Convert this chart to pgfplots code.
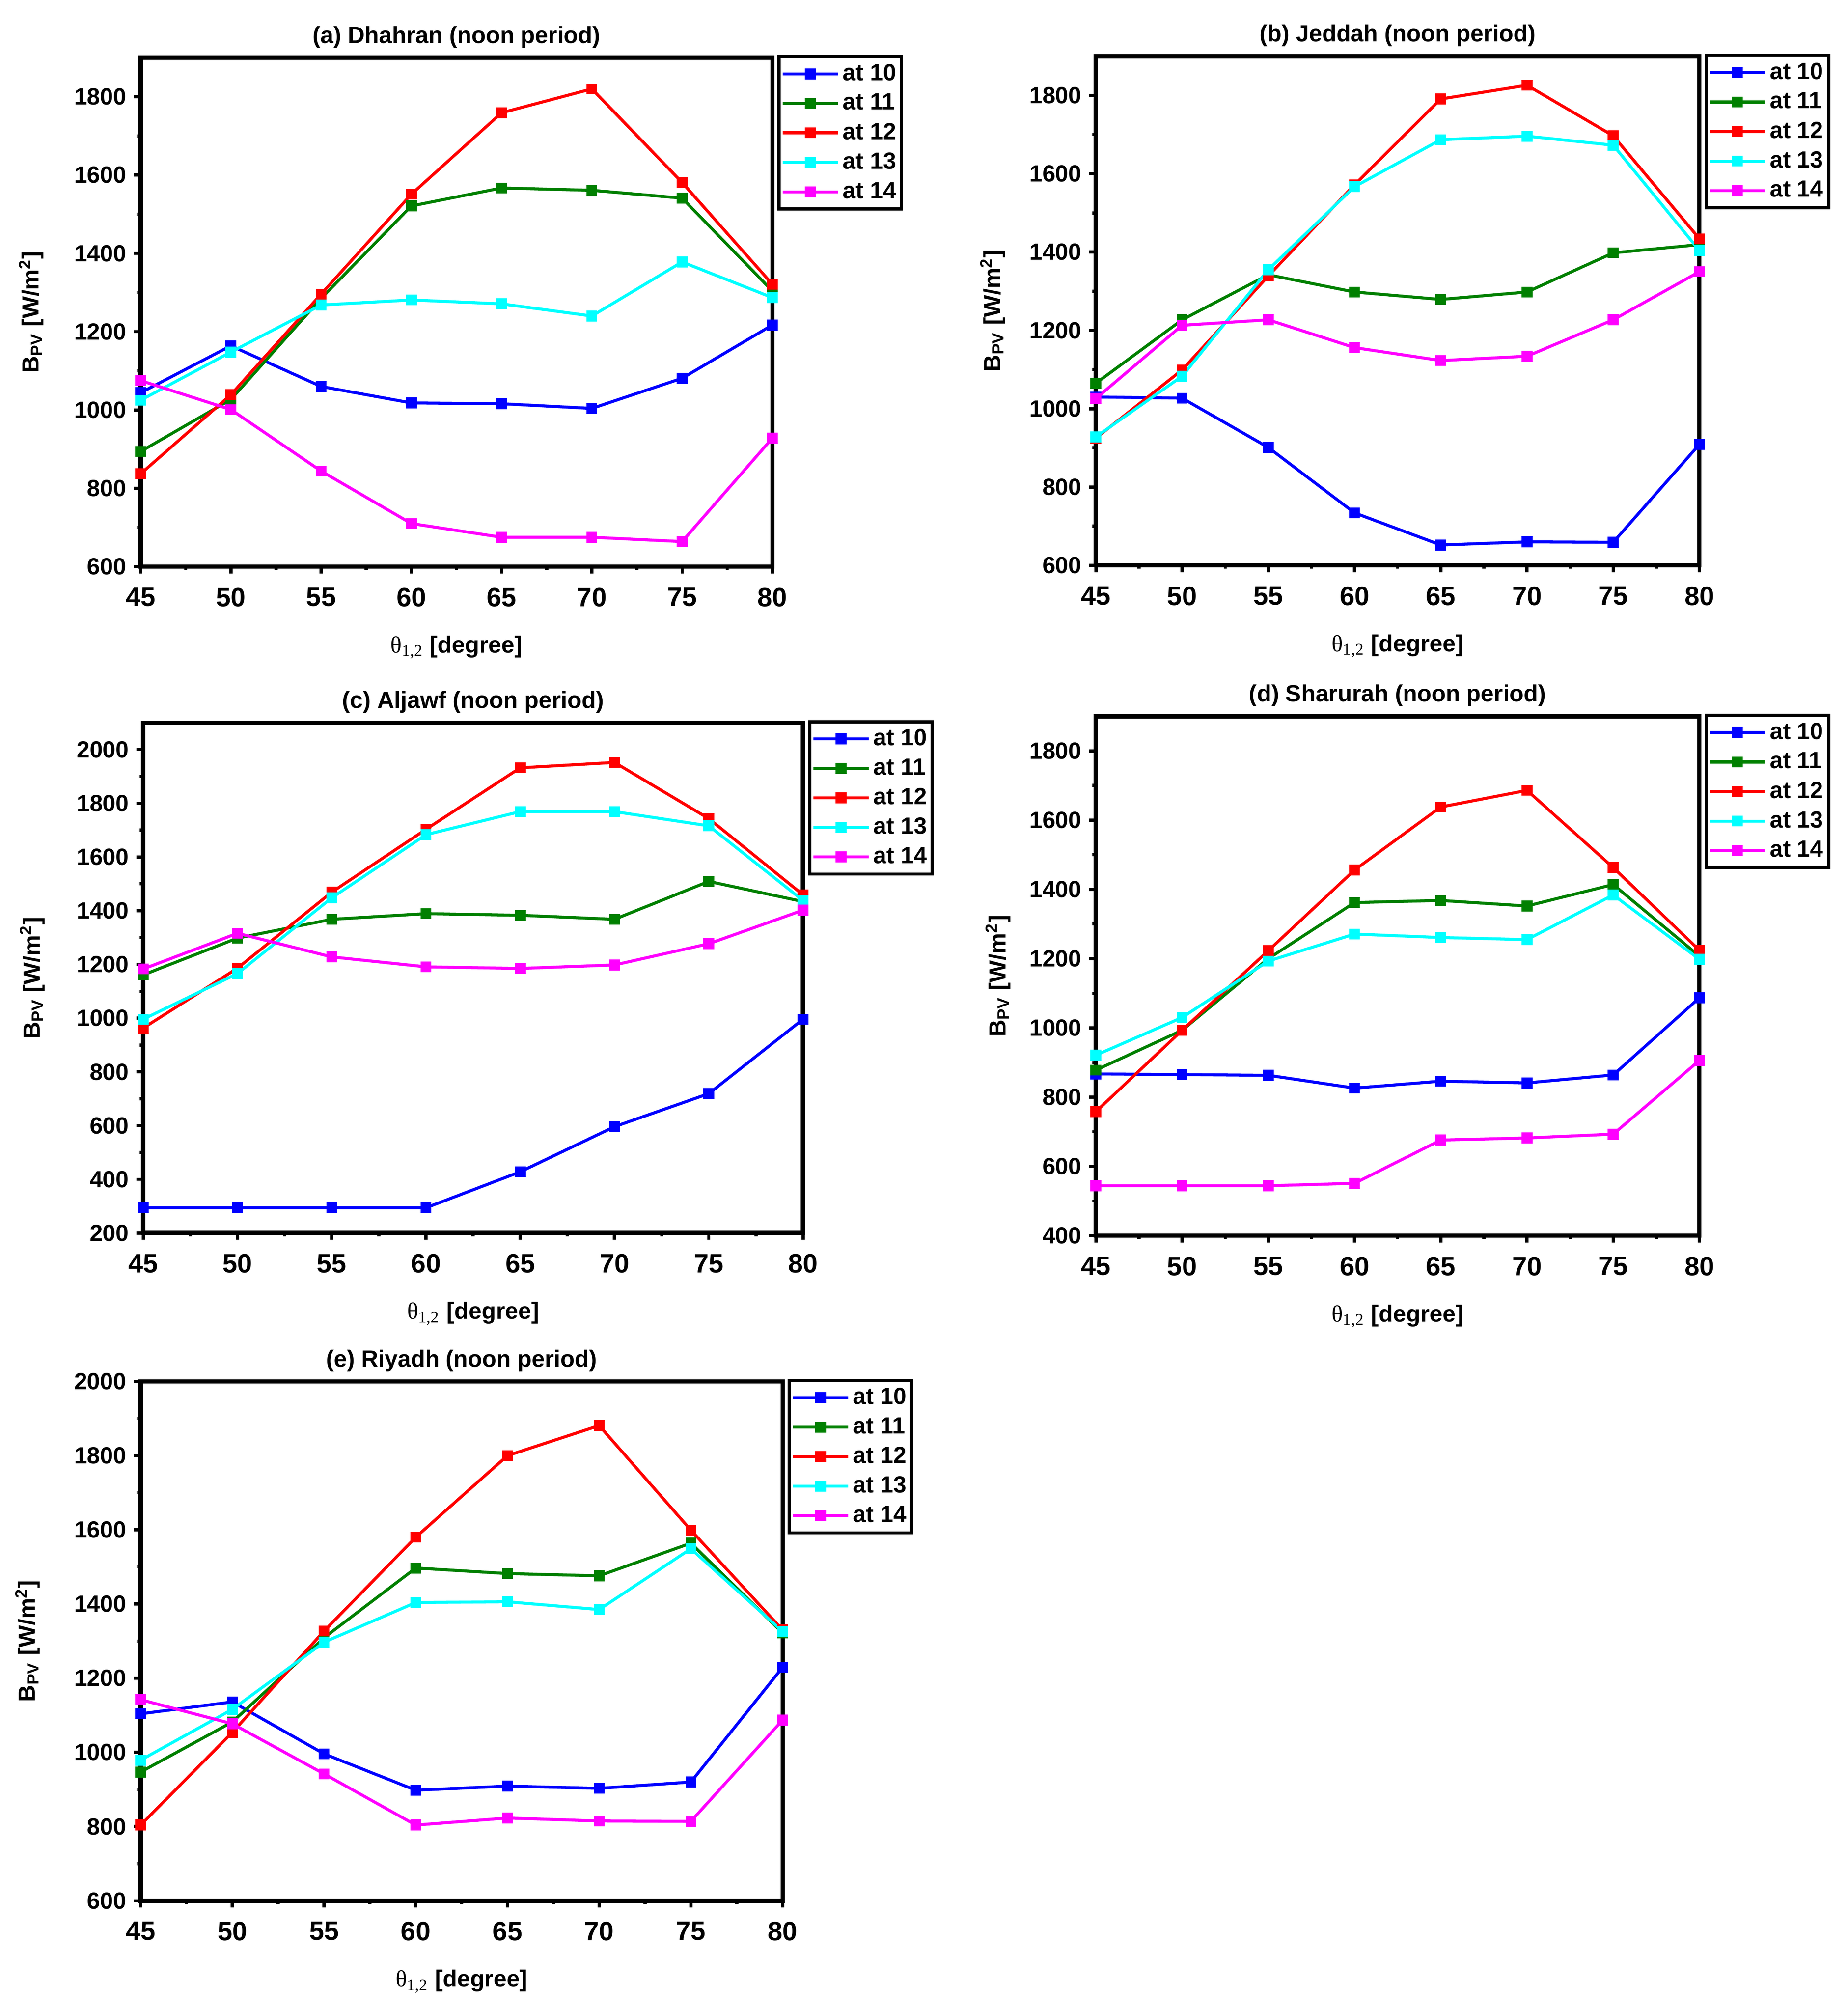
\documentclass[border=0pt]{standalone}
\usepackage{fontspec}
\setmainfont{Liberation Sans}
\newfontfamily\serif{Liberation Serif}
\usepackage{xcolor}
\usepackage{pgfplots}
\pgfplotsset{compat=1.18}

\definecolor{c10}{RGB}{0,0,255}
\definecolor{c11}{RGB}{0,128,0}
\definecolor{c12}{RGB}{255,0,0}
\definecolor{c13}{RGB}{0,255,255}
\definecolor{c14}{RGB}{255,0,255}

\pgfplotsset{
  panel/.style={
    scale only axis,
    xmin=45, xmax=80, xtick={45,50,...,80},
    minor x tick num=1, minor y tick num=1,
    tick align=outside, tick pos=left,
    major tick length=3.2pt, minor tick length=1.6pt,
    every tick/.style={black, line width=1.5pt},
    axis line style={line width=2pt},
    clip=false,
    /pgf/number format/assume math mode=true,
    /pgf/number format/1000 sep={},
    yticklabel style={font=\bfseries\fontsize{11}{11}\selectfont},
    xticklabel style={font=\bfseries\fontsize{12.5}{13}\selectfont, yshift=-3.2pt},
    title style={font=\bfseries\fontsize{11}{13}\selectfont, at={(0.5,1)}, anchor=south, yshift=-5pt},
    xlabel={{\serif\mdseries θ\textsubscript{1,2}} [degree]},
    ylabel={B\textsubscript{PV} [W/m\textsuperscript{2}]},
    label style={font=\bfseries\fontsize{11}{13}\selectfont},
    xlabel style={at={(axis description cs:0.5,0)}, anchor=center, yshift=-37.8pt},
    legend style={at={(1,1)}, anchor=north west, xshift=2.4pt, yshift=1.2pt,
      draw=black, line width=1.5pt, inner xsep=1pt, inner ysep=2pt,
      nodes={inner sep=1.5pt, text depth=0.15em},
      font=\bfseries\fontsize{11}{12}\selectfont,
      cells={anchor=west}, row sep=1.7pt},
    legend image code/.code={
      \draw[mark repeat=2, mark phase=2] plot coordinates {(0pt,0pt) (13pt,0pt) (26pt,0pt)};
    },
    every axis plot/.append style={line width=1.4pt, mark=square*, mark size=1.85pt, mark options={solid}},
  }
}

\begin{document}
\begin{tikzpicture}
\path[use as bounding box] (0,0) rectangle (867pt,-943.8pt);

% (a)
\begin{axis}[panel, at={(66pt,-265.8pt)}, anchor=south west,
  width=296.4pt, height=238.8pt,
  ymin=600, ymax=1900, ytick={600,800,...,1800},
  ylabel style={at={(axis description cs:-0.173,0.5)}, anchor=center},
  title={(a) Dhahran (noon period)}]
\addplot[c10] coordinates {(45,1044)(50,1164)(55,1060)(60,1018)(65,1016)(70,1004)(75,1081)(80,1217)};
\addplot[c11] coordinates {(45,894)(50,1027)(55,1285)(60,1521)(65,1567)(70,1561)(75,1541)(80,1304)};
\addplot[c12] coordinates {(45,837)(50,1039)(55,1296)(60,1551)(65,1759)(70,1820)(75,1581)(80,1321)};
\addplot[c13] coordinates {(45,1025)(50,1148)(55,1268)(60,1281)(65,1271)(70,1240)(75,1378)(80,1287)};
\addplot[c14] coordinates {(45,1075)(50,1001)(55,844)(60,710)(65,675)(70,675)(75,664)(80,928)};
\legend{at 10, at 11, at 12, at 13, at 14}
\end{axis}

% (b)
\begin{axis}[panel, at={(514.2pt,-265.2pt)}, anchor=south west,
  width=283.2pt, height=238.8pt,
  ymin=600, ymax=1900, ytick={600,800,...,1800},
  ylabel style={at={(axis description cs:-0.171,0.5)}, anchor=center},
  title={(b) Jeddah (noon period)}]
\addplot[c10] coordinates {(45,1030)(50,1027)(55,901)(60,734)(65,652)(70,660)(75,659)(80,909)};
\addplot[c11] coordinates {(45,1065)(50,1227)(55,1342)(60,1298)(65,1279)(70,1298)(75,1398)(80,1419)};
\addplot[c12] coordinates {(45,925)(50,1099)(55,1339)(60,1572)(65,1791)(70,1826)(75,1697)(80,1434)};
\addplot[c13] coordinates {(45,928)(50,1083)(55,1355)(60,1567)(65,1687)(70,1696)(75,1673)(80,1404)};
\addplot[c14] coordinates {(45,1026)(50,1213)(55,1227)(60,1156)(65,1123)(70,1134)(75,1227)(80,1350)};
\legend{at 10, at 11, at 12, at 13, at 14}
\end{axis}

% (c)
\begin{axis}[panel, at={(67.2pt,-578.4pt)}, anchor=south west,
  width=309.6pt, height=239.4pt,
  ymin=200, ymax=2100, ytick={200,400,...,2000},
  ylabel style={at={(axis description cs:-0.168,0.5)}, anchor=center},
  title={(c) Aljawf (noon period)}]
\addplot[c10] coordinates {(45,294)(50,294)(55,294)(60,294)(65,428)(70,596)(75,719)(80,996)};
\addplot[c11] coordinates {(45,1161)(50,1298)(55,1368)(60,1389)(65,1383)(70,1368)(75,1509)(80,1434)};
\addplot[c12] coordinates {(45,963)(50,1186)(55,1469)(60,1703)(65,1932)(70,1952)(75,1743)(80,1459)};
\addplot[c13] coordinates {(45,996)(50,1166)(55,1448)(60,1683)(65,1769)(70,1769)(75,1716)(80,1438)};
\addplot[c14] coordinates {(45,1183)(50,1316)(55,1228)(60,1191)(65,1185)(70,1198)(75,1277)(80,1402)};
\legend{at 10, at 11, at 12, at 13, at 14}
\end{axis}

% (d)
\begin{axis}[panel, at={(514.2pt,-579.6pt)}, anchor=south west,
  width=283.2pt, height=243.6pt,
  ymin=400, ymax=1900, ytick={400,600,...,1800},
  ylabel style={at={(axis description cs:-0.162,0.5)}, anchor=center},
  title={(d) Sharurah (noon period)}]
\addplot[c10] coordinates {(45,867)(50,865)(55,863)(60,826)(65,846)(70,841)(75,864)(80,1087)};
\addplot[c11] coordinates {(45,878)(50,993)(55,1200)(60,1362)(65,1368)(70,1352)(75,1414)(80,1207)};
\addplot[c12] coordinates {(45,758)(50,993)(55,1223)(60,1456)(65,1638)(70,1686)(75,1463)(80,1224)};
\addplot[c13] coordinates {(45,921)(50,1030)(55,1193)(60,1271)(65,1261)(70,1255)(75,1384)(80,1198)};
\addplot[c14] coordinates {(45,544)(50,544)(55,544)(60,551)(65,676)(70,682)(75,693)(80,906)};
\legend{at 10, at 11, at 12, at 13, at 14}
\end{axis}

% (e)
\begin{axis}[panel, at={(66pt,-891.6pt)}, anchor=south west,
  width=301.2pt, height=243.6pt,
  ymin=600, ymax=2000, ytick={600,800,...,2000},
  ylabel style={at={(axis description cs:-0.176,0.5)}, anchor=center},
  title={(e) Riyadh (noon period)}]
\addplot[c10] coordinates {(45,1104)(50,1136)(55,996)(60,898)(65,909)(70,903)(75,920)(80,1229)};
\addplot[c11] coordinates {(45,947)(50,1082)(55,1309)(60,1497)(65,1482)(70,1476)(75,1564)(80,1322)};
\addplot[c12] coordinates {(45,804)(50,1054)(55,1327)(60,1580)(65,1800)(70,1881)(75,1599)(80,1330)};
\addplot[c13] coordinates {(45,979)(50,1116)(55,1297)(60,1404)(65,1406)(70,1385)(75,1549)(80,1326)};
\addplot[c14] coordinates {(45,1142)(50,1077)(55,942)(60,804)(65,823)(70,815)(75,814)(80,1087)};
\legend{at 10, at 11, at 12, at 13, at 14}
\end{axis}
\end{tikzpicture}
\end{document}
